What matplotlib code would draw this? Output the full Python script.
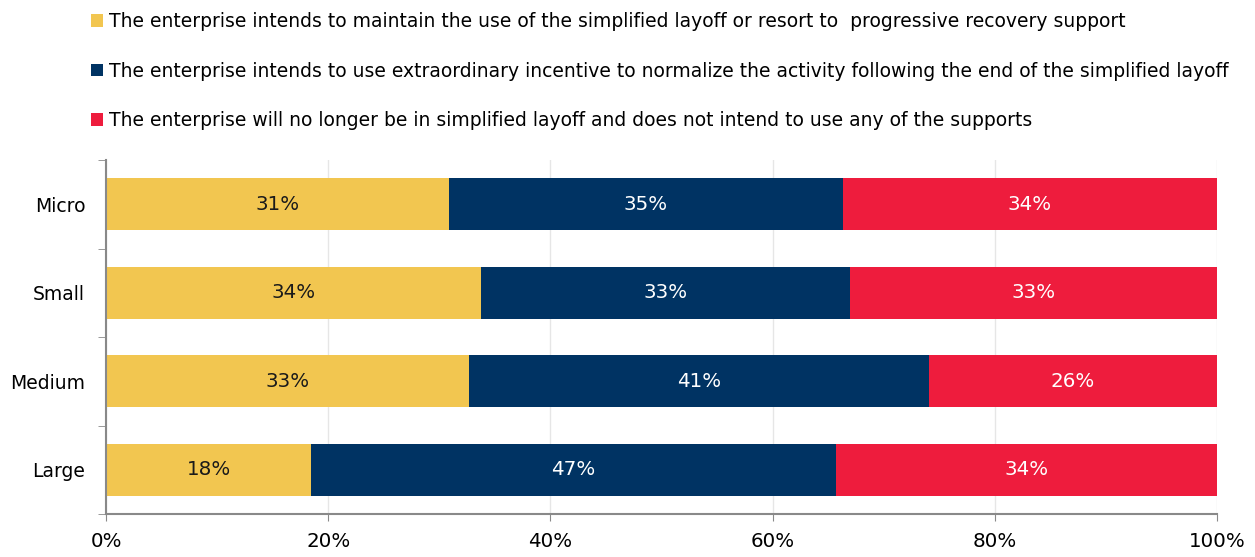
import numpy as np
import matplotlib.pyplot as plt
from matplotlib.patches import Patch
from matplotlib.ticker import FixedLocator, PercentFormatter

categories = ["Micro", "Small", "Medium", "Large"]
maintain = [30.9, 33.75, 32.7, 18.45]
incentive = [35.4, 33.2, 41.4, 47.25]
no_support = [33.7, 33.05, 25.9, 34.3]

series_labels = [
    "The enterprise intends to maintain the use of the simplified layoff or resort to  progressive recovery support",
    "The enterprise intends to use extraordinary incentive to normalize the activity following the end of the simplified layoff",
    "The enterprise will no longer be in simplified layoff and does not intend to use any of the supports",
]
colors = ["#F2C650", "#003363", "#EE1C3D"]
text_colors = ["#1a1a1a", "white", "white"]

plt.rcParams["font.family"] = ["DejaVu Sans"]
fs_legend = 13.5
fs_ylab = 13.5
fs_num = 14.3

fig = plt.figure(figsize=(12.55, 5.57), dpi=100)
ax = fig.add_axes([0.0845, 0.0772, 0.8852, 0.6355])

y = np.arange(len(categories))
left = np.zeros(len(categories))
for vals, c, tc in zip([maintain, incentive, no_support], colors, text_colors):
    vals = np.array(vals)
    ax.barh(y, vals, left=left, height=0.59, color=c, zorder=2)
    for yi, l, v in zip(y, left, vals):
        ax.text(l + v / 2, yi, f"{v:.0f}%", ha="center", va="center",
                color=tc, fontsize=fs_num, zorder=3)
    left += vals

ax.set_xlim(0, 100)
ax.set_ylim(len(categories) - 0.5, -0.5)
ax.set_xticks(np.arange(0, 101, 20))
ax.xaxis.set_major_formatter(PercentFormatter(decimals=0))
ax.set_yticks(y)
ax.set_yticklabels(categories)
ax.yaxis.set_minor_locator(FixedLocator(np.arange(-0.5, len(categories), 1)))
ax.tick_params(axis="y", which="major", length=0, pad=15, labelsize=fs_ylab)
ax.tick_params(axis="y", which="minor", length=6, color="#898989")
ax.tick_params(axis="x", length=5, color="#898989", pad=8, labelsize=fs_num)
ax.grid(axis="x", color="#E6E6E6", linewidth=1, zorder=0)
ax.set_axisbelow(True)
for s in ["top", "right"]:
    ax.spines[s].set_visible(False)
for s in ["left", "bottom"]:
    ax.spines[s].set_color("#898989")
    ax.spines[s].set_linewidth(1.5)

handles = [Patch(facecolor=c) for c in colors]
fig.legend(handles, series_labels, loc="upper left", bbox_to_anchor=(0.063, 1.0),
           frameon=False, fontsize=fs_legend, handlelength=0.65, handleheight=0.65,
           handletextpad=0.3, labelspacing=1.62, borderaxespad=0.25)

fig.savefig("out.png", dpi=100)
